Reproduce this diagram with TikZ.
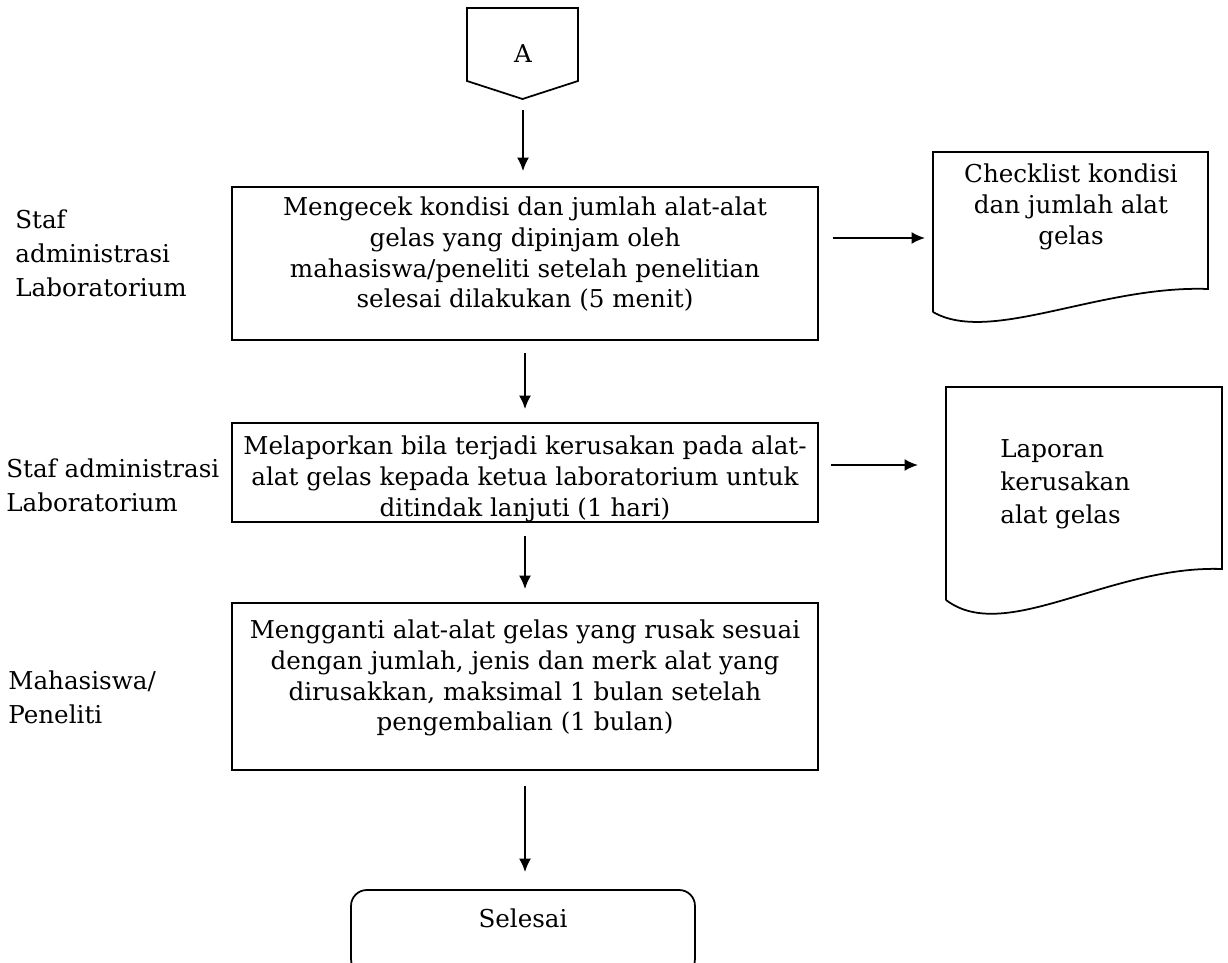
\documentclass[tikz,border=0pt]{standalone}
\usepackage{fontspec}
\setmainfont{DejaVu Serif}
\usetikzlibrary{arrows.meta,positioning,calc}

\begin{document}
\begin{tikzpicture}[
  x=0.02cm, y=-0.02cm,
  every node/.style={font=\fontsize{14}{17.6}\selectfont},
  procbox/.style={rectangle, draw=black, line width=1pt, minimum width=11.72cm},
  steptext/.style={align=center, inner sep=0pt, anchor=north},
  endbox/.style={rectangle, draw=black, rounded corners=9pt, line width=1pt, minimum width=6.88cm, minimum height=1.7cm, text height=0.4cm, text depth=0.6cm},
  doctext/.style={inner sep=0pt},
  actor/.style={font=\fontsize{14}{19.3}\selectfont, align=left, anchor=west, inner sep=0pt},
  outline/.style={draw=black, line width=1pt},
  flow/.style={-{Latex[length=2.7mm, width=2.4mm]}, line width=1.1pt},
]
  \useasboundingbox (0,0) rectangle (1228,963);

  % off-page connector
  \node (conA) at (523,54) {A};
  \draw[outline] ($(conA)+(-56,-46)$) -- ++(111,0) -- ++(0,73) -- ++(-55.5,18) -- ++(-55.5,-18) -- cycle;
  \coordinate (conAtip) at ($(conA)+(0,45)$);

  % process steps (text sits at the top of each box)
  \node[procbox, minimum height=3.06cm] (cek) at (525,263.5) {};
  \node[steptext] (cekText) at ($(cek.north)+(0,10)$) {Mengecek kondisi dan jumlah alat-alat\\gelas yang dipinjam oleh\\mahasiswa/peneliti setelah penelitian\\selesai dilakukan (5 menit)};
  \node[procbox, minimum height=1.98cm] (lapor) at (525,472.5) {};
  \node[steptext] (laporText) at ($(lapor.north)+(0,13)$) {Melaporkan bila terjadi kerusakan pada alat-\\alat gelas kepada ketua laboratorium untuk\\ditindak lanjuti (1 hari)};
  \node[procbox, minimum height=3.34cm] (ganti) at (525,686.5) {};
  \node[steptext] (gantiText) at ($(ganti.north)+(0,17)$) {Mengganti alat-alat gelas yang rusak sesuai\\dengan jumlah, jenis dan merk alat yang\\dirusakkan, maksimal 1 bulan setelah\\pengembalian (1 bulan)};
  \node[endbox] (selesai) at (523,932.5) {Selesai};

  % actors
  \node[actor] (actA) at (15,253) {Staf\\administrasi\\Laboratorium};
  \node[actor] (actB) at (6,485)  {Staf administrasi\\Laboratorium};
  \node[actor] (actC) at (8,697)  {Mahasiswa/\\Peneliti};

  % documents
  \node[doctext, align=center] (docA) at (1071,207) {Checklist kondisi\\dan jumlah alat\\gelas};
  \draw[outline] (933,312) -- (933,152) -- (1208,152) -- (1208,289) .. controls (1100,285) and (990,345) .. (933,312);
  \coordinate (docAin) at (933,238);

  \node[doctext, font=\fontsize{14}{18.7}\selectfont, align=left, anchor=west] (docB) at (1000,484) {Laporan\\kerusakan\\alat gelas};
  \draw[outline] (946,600) -- (946,387) -- (1222,387) -- (1222,569) .. controls (1110,565) and (1005,645) .. (946,600);
  \coordinate (docBin) at (946,465);

  % flow
  \draw[flow, shorten <=0.22cm, shorten >=0.3cm] (conAtip) -- (conAtip |- cek.north);
  \draw[flow, shorten <=0.24cm, shorten >=0.26cm] (cek.south) -- (lapor.north);
  \draw[flow, shorten <=0.26cm, shorten >=0.26cm] (lapor.south) -- (ganti.north);
  \draw[flow, shorten <=0.3cm, shorten >=0.34cm] (ganti.south) -- (ganti.south |- selesai.north);
  \draw[flow, shorten <=0.28cm, shorten >=0.16cm] (cek.east |- docAin) -- (docAin);
  \draw[flow, shorten <=0.24cm, shorten >=0.56cm] (lapor.east |- docBin) -- (docBin);
\end{tikzpicture}
\end{document}
